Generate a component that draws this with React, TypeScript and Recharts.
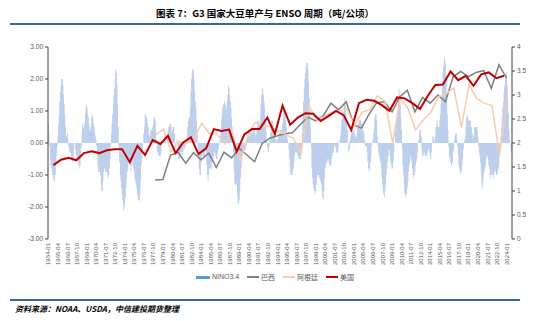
import { Bar, ComposedChart, Line, XAxis, YAxis } from "recharts";

// NINO3.4 monthly anomaly, 1964-01 .. 2024-09 (one row per year)
const nino: number[] = [
    0.6, 0.3, -0.1, -0.5, -0.7, -0.8, -0.9, -1.0, -1.1, -1.2, -1.2, -1.0,
    -0.7, -0.4, -0.1, 0.2, 0.6, 0.9, 1.3, 1.6, 1.8, 2.0, 2.0, 1.8,
    1.5, 1.2, 0.9, 0.5, 0.2, 0.2, 0.3, 0.1, -0.1, -0.2, -0.3, -0.3,
    -0.4, -0.5, -0.6, -0.5, -0.2, 0.0, 0.0, -0.2, -0.4, -0.5, -0.4, -0.6,
    -0.7, -0.8, -0.7, -0.5, -0.1, 0.3, 0.6, 0.5, 0.4, 0.6, 0.9, 1.1,
    1.2, 1.1, 0.9, 0.8, 0.6, 0.4, 0.4, 0.5, 0.8, 0.9, 0.8, 0.6,
    0.5, 0.3, 0.2, 0.1, -0.1, -0.4, -0.7, -0.9, -0.9, -0.8, -1.0, -1.3,
    -1.5, -1.5, -1.2, -0.9, -0.8, -0.8, -0.9, -0.9, -0.9, -1.0, -1.1, -1.0,
    -0.8, -0.5, -0.1, 0.3, 0.6, 0.9, 1.2, 1.5, 1.7, 2.0, 2.3, 2.2,
    1.8, 1.2, 0.5, -0.2, -0.6, -1.0, -1.2, -1.4, -1.6, -1.8, -2.1, -2.0,
    -1.9, -1.7, -1.4, -1.1, -0.9, -0.8, -0.6, -0.5, -0.5, -0.7, -0.9, -0.7,
    -0.6, -0.7, -0.8, -0.9, -1.1, -1.2, -1.3, -1.4, -1.6, -1.7, -1.8, -1.8,
    -1.6, -1.2, -0.7, -0.5, -0.3, 0.0, 0.3, 0.5, 0.9, 0.9, 0.8, 0.8,
    0.6, 0.5, 0.3, 0.2, 0.2, 0.4, 0.4, 0.4, 0.5, 0.6, 0.8, 0.8,
    0.7, 0.4, 0.1, -0.2, -0.3, -0.4, -0.4, -0.4, -0.4, -0.3, -0.1, 0.0,
    0.0, 0.1, 0.2, 0.3, 0.2, 0.0, 0.0, 0.2, 0.4, 0.5, 0.5, 0.6,
    0.6, 0.5, 0.3, 0.4, 0.5, 0.5, 0.3, 0.0, -0.1, 0.0, 0.1, 0.0,
    -0.3, -0.5, -0.5, -0.4, -0.3, -0.3, -0.4, -0.3, -0.2, -0.1, -0.2, -0.1,
    0.0, 0.1, 0.2, 0.5, 0.7, 0.8, 0.8, 1.1, 1.6, 2.0, 2.2, 2.3,
    2.3, 2.0, 1.6, 1.3, 1.1, 0.7, 0.3, -0.1, -0.5, -0.8, -1.0, -1.0,
    -0.6, -0.4, -0.3, -0.4, -0.5, -0.4, -0.3, -0.2, -0.3, -0.7, -1.0, -1.2,
    -1.0, -0.8, -0.8, -0.8, -0.8, -0.6, -0.5, -0.5, -0.4, -0.3, -0.3, -0.4,
    -0.5, -0.5, -0.3, -0.2, -0.1, 0.0, 0.2, 0.4, 0.7, 0.9, 1.1, 1.2,
    1.2, 1.3, 1.2, 1.0, 1.1, 1.3, 1.5, 1.8, 1.7, 1.5, 1.3, 1.1,
    0.8, 0.5, 0.1, -0.3, -0.9, -1.3, -1.3, -1.2, -1.3, -1.6, -1.9, -1.9,
    -1.8, -1.5, -1.1, -0.8, -0.6, -0.4, -0.3, -0.3, -0.2, -0.2, -0.2, -0.1,
    0.1, 0.2, 0.3, 0.3, 0.2, 0.2, 0.3, 0.3, 0.4, 0.3, 0.4, 0.4,
    0.4, 0.3, 0.2, 0.3, 0.5, 0.7, 0.7, 0.6, 0.6, 0.8, 1.2, 1.5,
    1.7, 1.7, 1.5, 1.3, 1.1, 0.7, 0.4, 0.1, -0.1, -0.2, -0.3, -0.1,
    0.1, 0.3, 0.5, 0.7, 0.7, 0.6, 0.3, 0.3, 0.2, 0.1, 0.0, 0.1,
    0.1, 0.1, 0.2, 0.3, 0.4, 0.4, 0.4, 0.4, 0.6, 0.8, 1.1, 1.1,
    1.0, 0.7, 0.5, 0.3, 0.1, 0.0, -0.2, -0.5, -0.8, -1.0, -1.0, -1.0,
    -0.9, -0.8, -0.6, -0.4, -0.3, -0.3, -0.3, -0.3, -0.4, -0.4, -0.5, -0.5,
    -0.5, -0.4, -0.1, 0.3, 0.8, 1.3, 1.7, 2.0, 2.2, 2.4, 2.5, 2.5,
    2.3, 1.9, 1.4, 1.0, 0.5, -0.1, -0.8, -1.1, -1.3, -1.4, -1.5, -1.6,
    -1.5, -1.3, -1.1, -1.0, -1.0, -1.0, -1.1, -1.1, -1.2, -1.3, -1.5, -1.7,
    -1.8, -1.5, -1.1, -0.8, -0.7, -0.6, -0.6, -0.5, -0.5, -0.6, -0.7, -0.7,
    -0.7, -0.5, -0.4, -0.3, -0.3, -0.1, -0.1, -0.1, -0.2, -0.3, -0.3, -0.3,
    -0.1, 0.0, 0.1, 0.2, 0.4, 0.7, 0.8, 0.9, 1.0, 1.2, 1.4, 1.2,
    0.9, 0.6, 0.4, 0.0, -0.3, -0.2, 0.1, 0.2, 0.3, 0.3, 0.4, 0.4,
    0.4, 0.3, 0.2, 0.2, 0.2, 0.3, 0.5, 0.6, 0.7, 0.7, 0.7, 0.7,
    0.6, 0.6, 0.4, 0.4, 0.3, 0.1, -0.1, -0.1, -0.1, -0.3, -0.6, -0.8,
    -0.9, -0.8, -0.6, -0.4, -0.1, 0.0, 0.1, 0.3, 0.5, 0.8, 0.9, 0.9,
    0.7, 0.2, -0.1, -0.3, -0.4, -0.5, -0.6, -0.8, -1.1, -1.3, -1.5, -1.6,
    -1.7, -1.5, -1.3, -1.0, -0.8, -0.6, -0.4, -0.2, -0.2, -0.4, -0.6, -0.7,
    -0.8, -0.8, -0.6, -0.3, 0.0, 0.3, 0.5, 0.6, 0.7, 1.0, 1.4, 1.7,
    1.5, 1.2, 0.8, 0.4, -0.2, -0.7, -1.0, -1.3, -1.6, -1.6, -1.7, -1.6,
    -1.4, -1.2, -0.9, -0.7, -0.6, -0.4, -0.5, -0.6, -0.8, -1.0, -1.1, -1.0,
    -0.9, -0.7, -0.6, -0.5, -0.3, 0.0, 0.1, 0.3, 0.4, 0.4, 0.2, -0.2,
    -0.4, -0.4, -0.3, -0.3, -0.4, -0.4, -0.4, -0.3, -0.3, -0.2, -0.2, -0.3,
    -0.4, -0.5, -0.3, 0.0, 0.2, 0.2, 0.0, 0.1, 0.2, 0.5, 0.6, 0.7,
    0.5, 0.5, 0.5, 0.7, 0.9, 1.2, 1.5, 1.9, 2.2, 2.4, 2.7, 2.6,
    2.5, 2.1, 1.6, 0.9, 0.4, -0.1, -0.4, -0.5, -0.6, -0.7, -0.7, -0.6,
    -0.3, -0.2, 0.1, 0.2, 0.3, 0.3, 0.1, -0.1, -0.4, -0.7, -0.8, -1.0,
    -0.9, -0.9, -0.7, -0.5, -0.2, 0.0, 0.1, 0.2, 0.5, 0.8, 0.9, 0.8,
    0.7, 0.7, 0.7, 0.7, 0.5, 0.5, 0.3, 0.1, 0.2, 0.3, 0.5, 0.5,
    0.5, 0.5, 0.4, 0.2, -0.1, -0.3, -0.4, -0.6, -0.9, -1.3, -1.4, -1.2,
    -1.0, -0.9, -0.8, -0.7, -0.5, -0.4, -0.4, -0.5, -0.7, -0.8, -1.1, -1.0,
    -1.0, -0.9, -1.0, -1.1, -1.0, -0.9, -0.8, -0.9, -1.0, -1.0, -0.9, -0.8,
    -0.7, -0.4, -0.1, 0.2, 0.5, 0.8, 1.1, 1.3, 1.6, 1.8, 2.0, 2.1,
    2.2, 1.8, 1.4, 0.9, 0.4, 0.1, 0.0, -0.2, -0.3,
];

// soybean yield, t/ha
const usFirstYear = 1964; // plotted at Sep of crop year
const usYield = [
    1.54, 1.65, 1.69, 1.64, 1.79, 1.83, 1.79, 1.85, 1.87, 1.87,
    1.6, 1.94, 1.75, 2.06, 1.98, 2.15, 1.79, 2.01, 2.12, 1.77,
    1.89, 2.29, 2.25, 2.28, 1.82, 2.18, 2.29, 2.29, 2.53, 2.19,
    2.78, 2.38, 2.53, 2.62, 2.61, 2.46, 2.56, 2.67, 2.58, 2.27,
    2.83, 2.9, 2.88, 2.79, 2.67, 2.95, 2.93, 2.83, 2.71, 2.98,
    3.21, 3.22, 3.49, 3.31, 3.4, 3.19, 3.43, 3.47, 3.35, 3.4,
];

const brFirstYear = 1978; // harvest year, plotted at Jan
const brYield = [
    1.23, 1.24, 1.75, 1.8, 1.58, 1.8, 1.65, 1.79, 1.49, 1.81,
    1.69, 1.89, 1.75, 1.61, 1.99, 2.1, 2.15, 2.19, 2.22, 2.39,
    2.54, 2.46, 2.57, 2.83, 2.69, 2.86, 2.38, 2.31, 2.6, 2.84,
    2.86, 2.65, 2.96, 3.1, 2.65, 2.95, 2.83, 3.0, 2.86, 3.38,
    3.49, 3.38, 3.47, 3.51, 3.14, 3.63, 3.35,
];

const arFirstYear = 1978; // harvest year, plotted at Feb
const arYield = [
    2.17, 2.29, 1.81, 2.03, 1.99, 2.1, 2.41, 2.2, 2.18, 1.99,
    2.24, 1.61, 2.13, 2.43, 2.36, 2.34, 2.25, 2.18, 2.1, 1.81,
    2.79, 2.48, 2.55, 2.64, 2.67, 2.71, 2.36, 2.65, 2.69, 2.98,
    2.86, 2.01, 2.93, 2.72, 2.27, 2.48, 2.64, 2.96, 3.03, 3.15,
    2.32, 3.22, 2.93, 2.83, 2.78, 1.74, 2.94,
];

const leftTicks = [-3, -2, -1, 0, 1, 2, 3];
const rightTicks = [0, 0.5, 1, 1.5, 2, 2.5, 3, 3.5, 4];

const startYear = 1964;
const pad = (m: number) => (m < 10 ? "0" + m : "" + m);

type Row = { month: string; nino: number; us?: number; br?: number; ar?: number };

const data: Row[] = nino.map((v, i) => ({
    month: `${startYear + Math.floor(i / 12)}-${pad((i % 12) + 1)}`,
    nino: v,
}));
usYield.forEach((v, k) => {
    data[(usFirstYear + k - startYear) * 12 + 8].us = v;
});
brYield.forEach((v, k) => {
    data[(brFirstYear + k - startYear) * 12 + 0].br = v;
});
arYield.forEach((v, k) => {
    data[(arFirstYear + k - startYear) * 12 + 1].ar = v;
});

const FONT = "'Liberation Sans', 'Noto Sans CJK SC', sans-serif";
const CJK = "'Noto Sans CJK SC', sans-serif";
const TXT = "#595959";

// plot bottom sits at y=239; labels hang just under it, reading upwards
const XTick = ({ x, payload }: any) => (
    <text
        x={x}
        y={243}
        transform={`rotate(-90 ${x} 243)`}
        textAnchor="end"
        dy="0.35em"
        fontSize={6}
        fill={TXT}
        fontFamily={FONT}
    >
        {payload.value}
    </text>
);

const legendItems = [
    { label: "NINO3.4", color: "#5b9bd5", bar: true },
    { label: "巴西", color: "#7f7f7f" },
    { label: "阿根廷", color: "#f8cbad" },
    { label: "美国", color: "#c00000" },
];

export default function App() {
    return (
        <div
            style={{
                position: "absolute",
                left: 0,
                top: 0,
                width: 550,
                height: 321,
                background: "#fff",
                fontFamily: FONT,
            }}
        >
            <div
                style={{
                    position: "absolute",
                    left: 10,
                    top: 7,
                    width: 510,
                    textAlign: "center",
                    fontFamily: CJK,
                    fontWeight: 700,
                    fontSize: 9.5,
                    color: "#000",
                    lineHeight: "12px",
                }}
            >
                图表 7：G3 国家大豆单产与 ENSO 周期（吨/公顷）
            </div>
            <div style={{ position: "absolute", left: 10, top: 23, width: 510, height: 1.5, background: "#3c64a5" }} />

            <div style={{ position: "absolute", left: 0, top: 0 }}>
                <ComposedChart
                    width={550}
                    height={290}
                    data={data}
                    barCategoryGap={0}
                    barGap={0}
                    margin={{ top: 47, right: 8, bottom: 1, left: 18 }}
                >
                    <XAxis
                        dataKey="month"
                        interval={14}
                        tick={<XTick />}
                        tickLine={false}
                        axisLine={false}
                        height={50}
                    />
                    <YAxis
                        yAxisId="l"
                        width={30}
                        domain={[-3, 3]}
                        ticks={leftTicks}
                        tickFormatter={(v: number) => v.toFixed(2)}
                        tick={{ fontSize: 6.5, fill: TXT, fontFamily: FONT }}
                        tickSize={3}
                        tickLine={{ stroke: "#404040" }}
                        axisLine={{ stroke: "#404040" }}
                    />
                    <YAxis
                        yAxisId="r"
                        orientation="right"
                        width={30}
                        domain={[0, 4]}
                        ticks={rightTicks}
                        tick={{ fontSize: 6.5, fill: TXT, fontFamily: FONT }}
                        tickSize={3}
                        tickLine={{ stroke: "#404040" }}
                        axisLine={{ stroke: "#404040" }}
                    />
                    <Bar yAxisId="l" dataKey="nino" fill="#a9c0e8" isAnimationActive={false} />
                    <Line yAxisId="r" dataKey="br" stroke="#7f7f7f" strokeWidth={1.5} dot={false} connectNulls isAnimationActive={false} />
                    <Line yAxisId="r" dataKey="ar" stroke="#f8cbad" strokeWidth={1.5} dot={false} connectNulls isAnimationActive={false} />
                    <Line yAxisId="r" dataKey="us" stroke="#c00000" strokeWidth={2} dot={false} connectNulls isAnimationActive={false} />
                </ComposedChart>
            </div>

            <div
                style={{
                    position: "absolute",
                    left: 0,
                    top: 272,
                    width: 550,
                    display: "flex",
                    justifyContent: "center",
                    gap: 8,
                    fontSize: 7,
                    color: TXT,
                    fontFamily: FONT,
                    lineHeight: "10px",
                }}
            >
                {legendItems.map((it) => (
                    <div key={it.label} style={{ display: "flex", alignItems: "center", gap: 2 }}>
                        <span
                            style={{
                                display: "inline-block",
                                width: it.bar ? 14 : 12,
                                height: it.bar ? 3 : 1.5,
                                background: it.color,
                            }}
                        />
                        <span style={{ fontFamily: it.bar ? FONT : CJK }}>{it.label}</span>
                    </div>
                ))}
            </div>

            <div style={{ position: "absolute", left: 10, top: 299, width: 510, height: 1.5, background: "#3c64a5" }} />
            <div
                style={{
                    position: "absolute",
                    left: 15,
                    top: 303,
                    fontFamily: CJK,
                    fontWeight: 700,
                    fontStyle: "italic",
                    fontSize: 8,
                    color: "#000",
                    lineHeight: "12px",
                }}
            >
                资料来源：NOAA、USDA，中信建投期货整理
            </div>
        </div>
    );
}
